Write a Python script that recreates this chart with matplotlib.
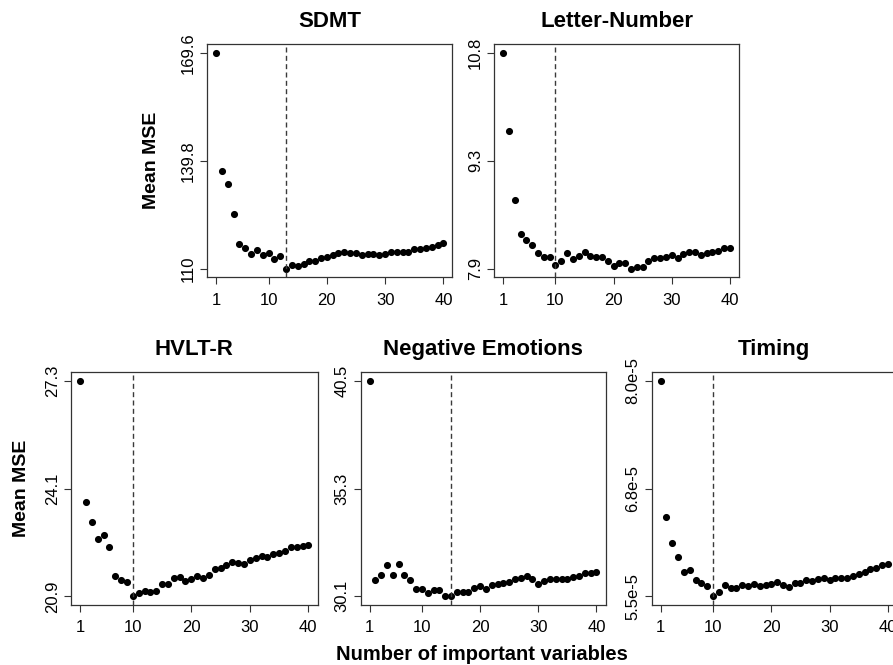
#!/usr/bin/env python3

import matplotlib
matplotlib.use("Agg")
import matplotlib.pyplot as plt

########################################################################################################################

nvars = list(range(1, 41))

titles = ['SDMT', 'Letter-Number', 'HVLT-R', 'Negative Emotions', 'Timing']

sdmt = [169.6, 137.1, 133.5, 125.2, 116.9, 115.8, 114.1, 115.1, 113.8, 114.4,
        112.8, 113.4, 110.0, 111.0, 110.8, 111.2, 112.1, 112.1, 112.9, 113.2,
        113.7, 114.3, 114.5, 114.4, 114.4, 113.7, 114.1, 114.0, 113.7, 114.1,
        114.5, 114.5, 114.6, 114.7, 115.3, 115.4, 115.8, 116.1, 116.6, 117.1]

letter_number = [10.78, 9.73, 8.80, 8.35, 8.26, 8.20, 8.09, 8.04, 8.04, 7.93,
                 7.98, 8.09, 8.01, 8.05, 8.10, 8.05, 8.04, 8.04, 7.98, 7.92,
                 7.95, 7.95, 7.88, 7.90, 7.90, 7.98, 8.03, 8.03, 8.04, 8.07,
                 8.03, 8.08, 8.11, 8.11, 8.06, 8.09, 8.10, 8.12, 8.16, 8.16]

hvlt = [27.27, 23.66, 23.08, 22.56, 22.69, 22.33, 21.46, 21.37, 21.29, 20.87,
        20.97, 21.04, 21.01, 21.04, 21.23, 21.23, 21.41, 21.44, 21.32, 21.39,
        21.47, 21.42, 21.50, 21.67, 21.72, 21.80, 21.90, 21.87, 21.84, 21.95,
        22.00, 22.08, 22.04, 22.12, 22.16, 22.23, 22.33, 22.34, 22.36, 22.40]

neg_emotions = [40.52, 30.88, 31.09, 31.61, 31.09, 31.64, 31.11, 30.88, 30.45, 30.43,
                30.24, 30.40, 30.38, 30.09, 30.08, 30.27, 30.27, 30.27, 30.48, 30.56,
                30.46, 30.64, 30.67, 30.75, 30.79, 30.93, 30.95, 31.06, 30.92, 30.66,
                30.82, 30.92, 30.90, 30.90, 30.93, 31.01, 31.08, 31.19, 31.22, 31.27]

timing = [8.02e-5, 6.44e-5, 6.14e-5, 5.98e-5, 5.80e-5, 5.82e-5, 5.71e-5, 5.68e-5, 5.64e-5, 5.52e-5,
          5.57e-5, 5.65e-5, 5.62e-5, 5.62e-5, 5.65e-5, 5.64e-5, 5.66e-5, 5.64e-5, 5.65e-5, 5.66e-5,
          5.69e-5, 5.65e-5, 5.63e-5, 5.67e-5, 5.67e-5, 5.71e-5, 5.70e-5, 5.72e-5, 5.73e-5, 5.71e-5,
          5.73e-5, 5.73e-5, 5.73e-5, 5.76e-5, 5.78e-5, 5.80e-5, 5.84e-5, 5.85e-5, 5.88e-5, 5.90e-5]

series = [sdmt, letter_number, hvlt, neg_emotions, timing]

# chosen number of variables (dashed line)
chosen = [13, 10, 10, 15, 10]

# y tick labels: max, mid, min
ylabels = [['169.6', '139.8', '110'],
           ['10.8', '9.3', '7.9'],
           ['27.3', '24.1', '20.9'],
           ['40.5', '35.3', '30.1'],
           ['8.0e-5', '6.8e-5', '5.5e-5']]

xticks = [1, 10, 20, 30, 40]

########################################################################################################################

plt.rcParams['font.family'] = ['Liberation Sans', 'DejaVu Sans']

W, H = 893, 665
fig = plt.figure(figsize=(W / 100, H / 100), dpi=100)

# axes boxes in pixels: left, top, right, bottom
boxes = [(207, 44.3, 452.5, 277.3),
         (494, 44.3, 739, 277.3),
         (71, 372, 317.5, 605),
         (360.5, 372, 605.5, 605),
         (651.5, 372, 897, 605)]

for i, (l, t, r, b) in enumerate(boxes):
    ax = fig.add_axes([l / W, 1 - b / H, (r - l) / W, (b - t) / H])
    y = series[i]
    ax.plot(nvars, y, 'o', color='black', ms=4.1, mec='black')
    ax.axvline(chosen[i], color='#3a3a3a', lw=1.0, dashes=(3.6, 2.4))
    ax.margins(0.04)

    ymax, ymin = max(y), min(y)
    ax.set_yticks([ymax, (ymax + ymin) / 2, ymin])
    ax.set_yticklabels(ylabels[i], rotation=90, va='center')
    ax.set_xticks(xticks)

    ax.tick_params(direction='out', length=5, width=0.8, color='#333333', labelsize=12)
    ax.tick_params(axis='x', pad=6)
    ax.tick_params(axis='y', pad=3)
    for s in ax.spines.values():
        s.set_color('#333333')
        s.set_linewidth(0.9)

    ax.set_title(titles[i], fontsize=16, fontweight='bold', pad=12.5)

fig.text(152 / W, 1 - 160.8 / H, 'Mean MSE', rotation=90, ha='center', va='center',
         fontsize=14, fontweight='bold')
fig.text(22 / W, 1 - 488.5 / H, 'Mean MSE', rotation=90, ha='center', va='center',
         fontsize=14, fontweight='bold')
fig.text(482 / W, 1 - 654 / H, 'Number of important variables', ha='center', va='center',
         fontsize=14.5, fontweight='bold')

plt.savefig('out.png', dpi=100)
